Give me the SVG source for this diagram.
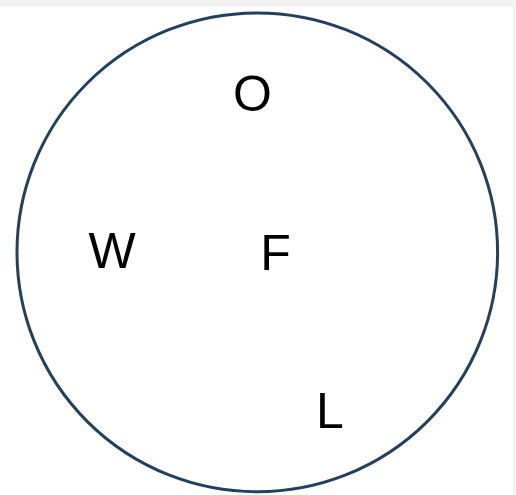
<svg xmlns="http://www.w3.org/2000/svg" width="516" height="495" viewBox="0 0 516 495">
<style>
.lbl{font-family:"Liberation Sans",Arial,sans-serif;font-size:50px;fill:#000;text-anchor:middle}
</style>
<rect x="0" y="0" width="516" height="495" fill="#f3f3f3"/>
<rect x="0" y="7" width="513" height="488" fill="#ffffff"/>
<g id="circle">
<ellipse cx="257.3" cy="252.3" rx="240.3" ry="239.4" fill="none" stroke="#23405f" stroke-width="3"/>
</g>
<g id="node-O"><text class="lbl" x="252.5" y="110.5">O</text></g>
<g id="node-W"><text class="lbl" x="112" y="268">W</text></g>
<g id="node-F"><text class="lbl" x="275.5" y="270">F</text></g>
<g id="node-L"><text class="lbl" x="330" y="428">L</text></g>
<g id="connectors"></g>
</svg>
